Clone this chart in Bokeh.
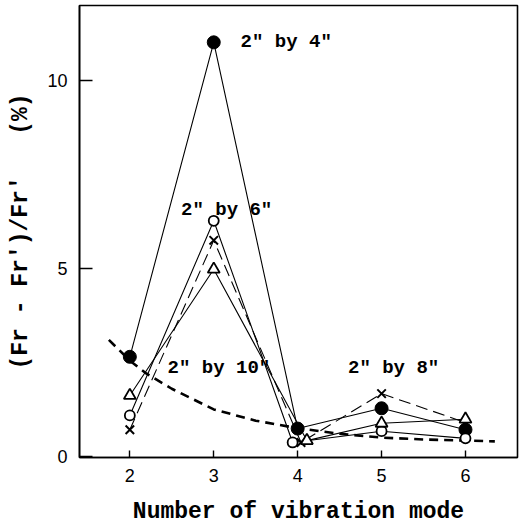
from bokeh.plotting import figure
from bokeh.models import Range1d, FixedTicker
from bokeh.embed import file_html
from bokeh.resources import INLINE
from bokeh.core.properties import value

# Data
modes_ticks = [2, 3, 4, 5, 6]

x_2by4 = [2, 3, 4.0, 5, 6]
y_2by4 = [2.65, 11.02, 0.74, 1.28, 0.71]      # filled circles, solid

x_2by6 = [2, 3, 3.94, 5, 6]
y_2by6 = [1.09, 6.27, 0.37, 0.67, 0.48]       # open circles, solid

x_2by8 = [2, 3, 4.04, 5, 6]
y_2by8 = [0.71, 5.75, 0.37, 1.67, 0.90]       # crosses, dashed

x_2by10 = [2, 3, 4.11, 5, 6]
y_2by10 = [1.62, 4.98, 0.42, 0.88, 0.99]      # triangles, solid

x_curve = [1.75, 2.0, 2.2, 2.5, 3.0, 3.5, 4.0, 4.5, 5.0, 5.5, 6.0, 6.35]
y_curve = [3.10, 2.55, 2.20, 1.80, 1.25, 0.95, 0.75, 0.60, 0.50, 0.45, 0.42, 0.40]

labels_text = ['2" by 4"', '2" by 6"', '2" by 10"', '2" by 8"']
labels_x = [3.32, 2.61, 2.45, 4.60]
labels_y = [11.03, 6.56, 2.35, 2.34]

MONO = "Liberation Mono"
SANS = "Liberation Sans"

p = figure(width=521, height=527, output_backend="svg", toolbar_location=None,
           x_range=Range1d(1.40, 6.62), y_range=Range1d(-0.03, 12.0),
           min_border_left=79, min_border_right=4, min_border_top=5, min_border_bottom=67)

p.background_fill_color = "white"
p.border_fill_color = "white"
p.outline_line_color = "black"
p.outline_line_width = 1.6
p.xgrid.visible = False
p.ygrid.visible = False

# axes
p.xaxis.ticker = FixedTicker(ticks=modes_ticks)
p.yaxis.ticker = FixedTicker(ticks=[0, 5, 10])
for ax in (p.xaxis[0], p.yaxis[0]):
    ax.axis_line_color = "black"
    ax.axis_line_width = 1.6
    ax.major_tick_line_color = "black"
    ax.major_tick_line_width = 1.4
    ax.minor_tick_line_color = None
    ax.major_tick_out = 0
    ax.major_label_text_font = SANS
    ax.major_label_text_font_size = "18px"
    ax.major_label_text_color = "black"
    ax.axis_label_text_font = MONO
    ax.axis_label_text_font_size = "23px"
    ax.axis_label_text_font_style = "bold"
    ax.axis_label_text_color = "black"
p.xaxis.major_tick_in = 7
p.yaxis.major_tick_in = 13
p.xaxis.major_label_standoff = 11
p.yaxis.major_label_standoff = 12
p.xaxis.axis_label = "Number of vibration mode"
p.xaxis.axis_label_standoff = 14
p.yaxis.axis_label = "(Fr - Fr')/Fr'\u00a0\u00a0\u00a0(%)"
p.yaxis.axis_label_standoff = 10

# theoretical dashed curve
p.line(x_curve, y_curve, line_color="black", line_width=2.6, line_dash="9 6")

# series lines
p.line(x_2by4, y_2by4, line_color="black", line_width=1.1)
p.line(x_2by6, y_2by6, line_color="black", line_width=1.1)
p.line(x_2by8, y_2by8, line_color="black", line_width=1.1, line_dash="12 6")
p.line(x_2by10, y_2by10, line_color="black", line_width=1.1)

# markers
p.scatter(x_2by4, y_2by4, marker="circle", size=13, fill_color="black", line_color="black")
p.scatter(x_2by6, y_2by6, marker="circle", size=10, fill_color="white", line_color="black", line_width=1.8)
p.scatter(x_2by8, y_2by8, marker="x", size=12, line_color="black", line_width=2)
p.scatter(x_2by10, y_2by10, marker="triangle", size=12, fill_color="white", line_color="black", line_width=1.8)

# annotations
p.text(x=labels_x, y=labels_y, text=labels_text, text_font=value(MONO),
       text_font_size="19px", text_font_style="bold", text_color="black",
       text_baseline="middle", text_align="left")

open("out.html", "w").write(file_html(p, INLINE))
